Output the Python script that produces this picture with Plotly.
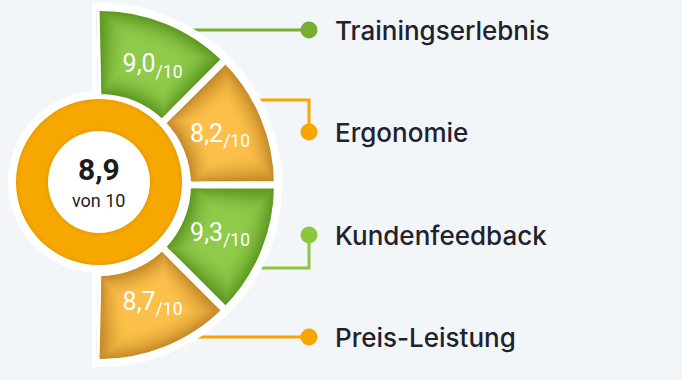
import numpy as np
import plotly.graph_objects as go

# ---------------- data ----------------
categories = ["Trainingserlebnis", "Ergonomie", "Kundenfeedback", "Preis-Leistung"]
scores = [9.0, 8.2, 9.3, 8.7]
overall = 8.9
scale_max = 10

# ---------------- style ----------------
seg_kind = ["green", "orange", "green", "orange"]
shade = {  # edge colour -> centre colour (soft radial glow)
    "green": ("#5F9A22", "#8FCA4A"),
    "orange": ("#C88C2A", "#FCC04A"),
}
line_colors = ["#76AD32", "#F8A502", "#8CC63E", "#F8A502"]
ring_shades = ["#EC9E00", "#F0A200", "#F3A500", "#F6A700"]
BG = "#F3F6F9"
TEXT = "#22222E"
FONT = "Roboto"
LABEL_FONT = "Inter"

W, H = 682, 380
# geometry (pixels)
cx, cy = 100, 185          # centre of half ring
R_out, R_in, R_back, GAP = 174, 91, 182, 7
ext = 1.3                  # small angular extension past the vertical
dcx, dcy = 99, 182         # centre of the donut
ring_r, ring_hole, ring_border = 83, 51, 91

# connector / label layout (pixels)
label_x = 335
dot_x = 309
label_y = [30, 132, 235, 337]
attach_y = [30, 100, 268, 337]

def fmt(v):
    return f"{v:.1f}".replace(".", ",")

def mix(c1, c2, t):
    a = np.array([int(c1[i:i + 2], 16) for i in (1, 3, 5)])
    b = np.array([int(c2[i:i + 2], 16) for i in (1, 3, 5)])
    m = np.round(a + (b - a) * t).astype(int)
    return "#%02X%02X%02X" % tuple(m)

fig = go.Figure()

# ---------- cartesian overlay in pixel units (connectors, dots) ----------
for i in range(len(categories)):
    if label_y[i] == attach_y[i]:
        xs = [150, dot_x]
        ys = [attach_y[i], label_y[i]]
    else:
        xs = [230, dot_x, dot_x]
        ys = [attach_y[i], attach_y[i], label_y[i]]
    fig.add_trace(go.Scatter(x=xs, y=ys, mode="lines",
                             line=dict(color=line_colors[i], width=3),
                             hoverinfo="skip", showlegend=False))
fig.add_trace(go.Scatter(x=[dot_x] * len(categories), y=label_y, mode="markers",
                         marker=dict(color=line_colors, size=17, line=dict(width=0)),
                         hoverinfo="skip", showlegend=False))

# ---------- half ring segments ----------
n = len(categories)
edges = np.linspace(90, -90, n + 1)
edges[0] += ext
edges[-1] -= ext
theta_c = (edges[:-1] + edges[1:]) / 2
widths = edges[:-1] - edges[1:]

# base layer with white separators
base = R_in - GAP / 2
fig.add_trace(go.Barpolar(
    theta=theta_c, r=[R_out + GAP / 2 - base] * n, base=base, width=widths,
    marker=dict(color=[shade[k][0] for k in seg_kind], line=dict(color="white", width=GAP)),
    hoverinfo="skip", showlegend=False, subplot="polar"))

# soft glow layers (inset, progressively lighter)
insets = np.arange(1.5, 26, 1.5)
r_mid = (R_in + R_out) / 2
for j, d in enumerate(insets):
    t = (j + 1) / len(insets)
    t = 1 - (1 - t) ** 1.8
    b = R_in + d
    rr = (R_out - d) - b
    dtheta = np.degrees((GAP / 2 + d) / r_mid) * 2
    fig.add_trace(go.Barpolar(
        theta=theta_c, r=[rr] * n, base=b, width=widths - dtheta,
        marker=dict(color=[mix(shade[k][0], shade[k][1], t) for k in seg_kind],
                    line=dict(width=0)),
        hoverinfo="skip", showlegend=False, subplot="polar"))

texts = [f"{fmt(s)}<sub>/{scale_max}</sub>" for s in scores]
fig.add_trace(go.Scatterpolar(
    theta=theta_c + np.array([-2, 0, 0, 2]), r=[130] * n, mode="text", text=texts,
    textfont=dict(color="white", size=25, family=FONT),
    hoverinfo="skip", showlegend=False, subplot="polar"))

# ---------- central donut (layers for soft edge shading) ----------
for k, col in enumerate(ring_shades):
    rr_, hh_ = ring_r - 1.2 * k, ring_hole + 1.2 * k
    fig.add_trace(go.Pie(
        values=[overall], marker=dict(colors=[col], line=dict(width=0)),
        hole=hh_ / rr_, textinfo="none", sort=False, hoverinfo="skip",
        showlegend=False,
        domain=dict(x=[(dcx - rr_) / W, (dcx + rr_) / W],
                    y=[1 - (dcy + rr_) / H, 1 - (dcy - rr_) / H])))

# polar domain so that centre/radius land on pixel geometry
xmin = -np.sin(np.radians(ext))
px0, px1 = cx + xmin * R_back, cx + R_back
py0, py1 = cy - R_back, cy + R_back

shapes = [
    dict(type="rect", xref="x", yref="y", x0=cx - (R_back - R_out), x1=cx + 2,
         y0=cy - R_back, y1=cy + R_back, fillcolor="white", line=dict(width=0), layer="below"),
    dict(type="circle", xref="x", yref="y", x0=dcx - ring_border, x1=dcx + ring_border,
         y0=dcy - ring_border, y1=dcy + ring_border, fillcolor="white",
         line=dict(width=0), layer="below"),
]

annotations = [
    dict(x=dcx, y=dcy - 13, xref="x", yref="y", text=f"<b>{fmt(overall)}</b>",
         showarrow=False, font=dict(size=30, color="#1C1C1C", family=FONT)),
    dict(x=dcx, y=dcy + 18, xref="x", yref="y", text=f"von {scale_max}",
         showarrow=False, font=dict(size=18, color="#1C1C1C", family=FONT)),
]
for i, c in enumerate(categories):
    annotations.append(dict(x=label_x - 2, y=label_y[i], xref="x", yref="y", text=c,
                            xanchor="left", yanchor="middle", showarrow=False,
                            font=dict(size=26, color=TEXT, family=LABEL_FONT, weight=500)))

fig.update_layout(
    width=W, height=H, margin=dict(l=0, r=0, t=0, b=0),
    paper_bgcolor=BG, plot_bgcolor="rgba(0,0,0,0)",
    xaxis=dict(range=[0, W], domain=[0, 1], visible=False, fixedrange=True),
    yaxis=dict(range=[H, 0], domain=[0, 1], visible=False, fixedrange=True),
    polar=dict(
        domain=dict(x=[px0 / W, px1 / W], y=[1 - py1 / H, 1 - py0 / H]),
        sector=[-90 - ext, 90 + ext], hole=0, bgcolor="white",
        radialaxis=dict(range=[0, R_back], visible=False, showgrid=False),
        angularaxis=dict(visible=False, showgrid=False, rotation=0, direction="counterclockwise"),
    ),
    shapes=shapes, annotations=annotations,
)

fig.write_html("out.html", config={"staticPlot": True},
               post_script="document.body.style.margin='0';document.body.style.overflow='hidden';")
